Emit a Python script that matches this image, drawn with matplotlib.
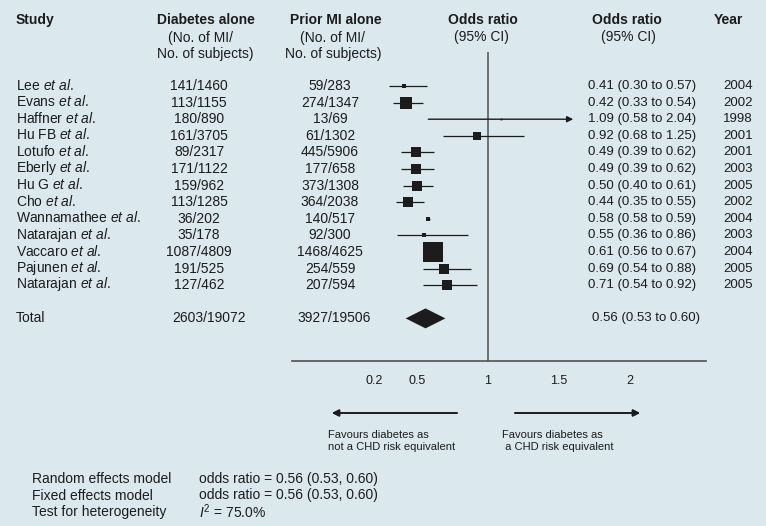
import matplotlib
matplotlib.use("Agg")
import matplotlib.pyplot as plt
from matplotlib import transforms

plt.rcParams['font.family'] = ['Liberation Sans', 'DejaVu Sans']
plt.rcParams['mathtext.fontset'] = 'custom'
plt.rcParams['mathtext.rm'] = 'Liberation Sans'
plt.rcParams['mathtext.it'] = 'Liberation Sans:italic'
plt.rcParams['mathtext.bf'] = 'Liberation Sans:bold'

# data
studies = ['Lee', 'Evans', 'Haffner', 'Hu FB', 'Lotufo', 'Eberly', 'Hu G', 'Cho',
           'Wannamathee', 'Natarajan', 'Vaccaro', 'Pajunen', 'Natarajan']
diabetes = ['141/1460', '113/1155', '180/890', '161/3705', '89/2317', '171/1122', '159/962',
            '113/1285', '36/202', '35/178', '1087/4809', '191/525', '127/462']
prior_mi = ['59/283', '274/1347', '13/69', '61/1302', '445/5906', '177/658', '373/1308',
            '364/2038', '140/517', '92/300', '1468/4625', '254/559', '207/594']
odds = [0.41, 0.42, 1.09, 0.92, 0.49, 0.49, 0.50, 0.44, 0.58, 0.55, 0.61, 0.69, 0.71]
ci_low = [0.30, 0.33, 0.58, 0.68, 0.39, 0.39, 0.40, 0.35, 0.58, 0.36, 0.56, 0.54, 0.54]
ci_high = [0.57, 0.54, 2.04, 1.25, 0.62, 0.62, 0.61, 0.55, 0.59, 0.86, 0.67, 0.88, 0.92]
years = [2004, 2002, 1998, 2001, 2001, 2003, 2005, 2002, 2004, 2003, 2004, 2005, 2005]
weights = [1.5, 13, 0.3, 6, 8, 8, 8, 8, 1.5, 1.5, 40, 8, 8]  # relative study weight (box area)

total_diabetes = '2603/19072'
total_prior = '3927/19506'
total_or, total_low, total_high = 0.56, 0.53, 0.60

xticks = [0.2, 0.5, 1, 1.5, 2]
xtick_labels = ['0.2', '0.5', '1', '1.5', '2']

summary_labels = ['Random effects model', 'Fixed effects model', 'Test for heterogeneity']
summary_values = ['odds ratio = 0.56 (0.53, 0.60)', 'odds ratio = 0.56 (0.53, 0.60)',
                  '$I^2$ = 75.0%']

bg = '#dbe8ee'
ink = '#1c1c1c'
grey = '#505050'
arrow_cap = 1.6      # CIs running past this are drawn as arrows
diamond_hw = 0.14    # drawn half-width of the pooled diamond

W, H = 766, 526
fig = plt.figure(figsize=(W / 100, H / 100), dpi=100, facecolor=bg)

def fx(px):
    return px / W

def fy(py):
    return 1 - py / H

row0, step = 86, 16.6
ax = fig.add_axes([fx(292), fy(361), fx(706) - fx(292), fy(52) - fy(361)])
ax.set_facecolor('none')
ax.set_xlim(1 - (488 - 292) / 142, 1 + (706 - 488) / 142)
ax.set_ylim((361 - row0) / step, (52 - row0) / step)

rows = list(range(len(studies)))
total_row = len(studies) + 1

ax.axvline(1, color=grey, lw=1.1, zorder=1)
for y, o, lo, hi, w in zip(rows, odds, ci_low, ci_high, weights):
    if hi > arrow_cap:
        ax.annotate('', xy=(arrow_cap, y), xytext=(lo, y),
                    arrowprops=dict(arrowstyle='-|>', color=ink, lw=1,
                                    mutation_scale=9, shrinkA=0, shrinkB=0))
    else:
        ax.hlines(y, lo, hi, color=ink, lw=0.9)
    ax.plot(o, y, marker='s', ls='none', color=ink, ms=3.3 * w ** 0.5 * 0.72, mew=0)

ax.fill([total_or - diamond_hw, total_or, total_or + diamond_hw, total_or],
        [total_row, total_row - 0.6, total_row, total_row + 0.6], color=ink, lw=0)

for s in ['top', 'left', 'right']:
    ax.spines[s].set_visible(False)
ax.spines['bottom'].set_color(grey)
ax.spines['bottom'].set_linewidth(1.2)
ax.set_yticks([])
ax.set_xticks(xticks)
ax.set_xticklabels(xtick_labels)
ax.tick_params(axis='x', length=0, pad=10, labelsize=9, labelcolor=ink)

# table text
tr = transforms.blended_transform_factory(fig.transFigure, ax.transData)
fs = 10
for y, name, d, p, o, lo, hi, yr in zip(rows, studies, diabetes, prior_mi, odds, ci_low, ci_high, years):
    ax.text(fx(16), y - 0.05, name + r' $\mathit{et\ al}$.', transform=tr, ha='left', va='center',
            fontsize=fs, color=ink, clip_on=False)
    ax.text(fx(199), y, d, transform=tr, ha='center', va='center', fontsize=fs, color=ink)
    ax.text(fx(330), y, p, transform=tr, ha='center', va='center', fontsize=fs, color=ink)
    ax.text(fx(642), y, f'{o:.2f} ({lo:.2f} to {hi:.2f})', transform=tr, ha='center',
            va='center', fontsize=9.5, color=ink)
    ax.text(fx(738), y, str(yr), transform=tr, ha='center', va='center', fontsize=9.5, color=ink)

ax.text(fx(16), total_row, 'Total', transform=tr, ha='left', va='center', fontsize=fs, color=ink)
ax.text(fx(209), total_row, total_diabetes, transform=tr, ha='center', va='center', fontsize=fs, color=ink)
ax.text(fx(334), total_row, total_prior, transform=tr, ha='center', va='center', fontsize=fs, color=ink)
ax.text(fx(646), total_row, f'{total_or:.2f} ({total_low:.2f} to {total_high:.2f})', transform=tr,
        ha='center', va='center', fontsize=9.5, color=ink)

# headers
fig.text(fx(16), fy(20), 'Study', ha='left', va='center', fontsize=fs, weight='bold', color=ink)
fig.text(fx(206), fy(20), 'Diabetes alone', ha='center', va='center', fontsize=fs, weight='bold', color=ink)
fig.text(fx(200), fy(38), '(No. of MI/', ha='center', va='center', fontsize=fs, color=ink)
fig.text(fx(205), fy(54), 'No. of subjects)', ha='center', va='center', fontsize=fs, color=ink)
fig.text(fx(336), fy(20), 'Prior MI alone', ha='center', va='center', fontsize=fs, weight='bold', color=ink)
fig.text(fx(333), fy(38), '(No. of MI/', ha='center', va='center', fontsize=fs, color=ink)
fig.text(fx(333), fy(54), 'No. of subjects)', ha='center', va='center', fontsize=fs, color=ink)
fig.text(fx(483), fy(20), 'Odds ratio', ha='center', va='center', fontsize=fs, weight='bold', color=ink)
fig.text(fx(481), fy(37), '(95% CI)', ha='center', va='center', fontsize=fs, color=ink)
fig.text(fx(627), fy(20), 'Odds ratio', ha='center', va='center', fontsize=fs, weight='bold', color=ink)
fig.text(fx(628), fy(37), '(95% CI)', ha='center', va='center', fontsize=fs, color=ink)
fig.text(fx(728), fy(20), 'Year', ha='center', va='center', fontsize=fs, weight='bold', color=ink)

# direction arrows
fig.add_artist(plt.annotate('', xy=(fx(332), fy(413)), xytext=(fx(457), fy(413)),
                            xycoords='figure fraction', textcoords='figure fraction',
                            arrowprops=dict(arrowstyle='-|>', color=ink, lw=1.2,
                                            mutation_scale=10, shrinkA=0, shrinkB=0)))
fig.add_artist(plt.annotate('', xy=(fx(640), fy(413)), xytext=(fx(515), fy(413)),
                            xycoords='figure fraction', textcoords='figure fraction',
                            arrowprops=dict(arrowstyle='-|>', color=ink, lw=1.2,
                                            mutation_scale=10, shrinkA=0, shrinkB=0)))
fig.text(fx(328), fy(441), 'Favours diabetes as\nnot a CHD risk equivalent', ha='left', va='center',
         fontsize=8, color=ink, linespacing=1.25)
fig.text(fx(502), fy(441), 'Favours diabetes as\n a CHD risk equivalent', ha='left', va='center',
         fontsize=8, color=ink, linespacing=1.25)

# summary
for i, (lab, val) in enumerate(zip(summary_labels, summary_values)):
    fig.text(fx(32), fy(479 + 16.5 * i), lab, ha='left', va='center', fontsize=fs, color=ink)
    fig.text(fx(199), fy(479 + 16.5 * i), val, ha='left', va='center', fontsize=fs, color=ink)

fig.savefig('out.png', dpi=100, facecolor=bg)
